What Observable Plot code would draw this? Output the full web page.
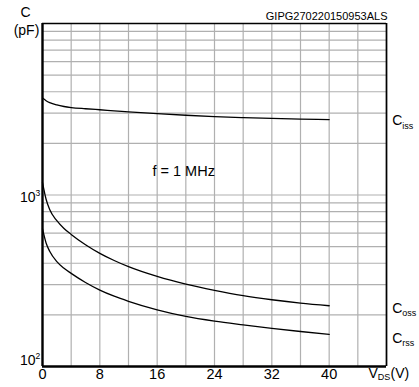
<!DOCTYPE html>
<html>
<head>
<meta charset="utf-8">
<script src="https://cdn.jsdelivr.net/npm/d3@7"></script>
<script src="https://cdn.jsdelivr.net/npm/@observablehq/plot@0.6"></script>
<style>
  html, body { margin: 0; padding: 0; background: white; }
  #chart svg { display: block; }
</style>
</head>
<body>
<div id="chart"></div>
<script>
// Data
const vds  = [0, 0.5, 1, 2, 3, 4, 6, 8, 10, 12, 16, 20, 24, 28, 32, 36, 40];
const ciss = [3673, 3548, 3459, 3350, 3281, 3236, 3184, 3141, 3097, 3055, 2979, 2917, 2864, 2825, 2796, 2773, 2754];
const coss = [1180, 944, 822, 708, 638, 589, 513, 457, 415, 382, 335, 302, 278, 259, 245, 234, 226];
const crss = [634, 525, 470, 409, 374, 349, 309, 279, 257, 240, 214, 196, 184, 175, 167, 160, 154];
const xTicks = [0, 8, 16, 24, 32, 40];
const xGrid = d3.range(0, 49, 4);
const yGrid = [200, 300, 400, 500, 600, 700, 800, 900, 1000, 2000, 3000, 4000, 5000, 6000, 7000, 8000, 9000];
const seriesNames = ["iss", "oss", "rss"];
const labelY = [2710, 218, 146];

const font = "'Liberation Sans', Arial, Helvetica, sans-serif";
const toRows = (vals, name) => vds.map((v, i) => ({v, c: vals[i], name}));
const rows = [...toRows(ciss, "iss"), ...toRows(coss, "oss"), ...toRows(crss, "rss")];

const chart = Plot.plot({
  width: 419,
  height: 387,
  marginLeft: 42,
  marginRight: 33,
  marginTop: 23,
  marginBottom: 21,
  style: {fontFamily: font, fontSize: "14px", background: "white", color: "black", overflow: "visible"},
  x: {domain: [0, 48], axis: null},
  y: {type: "log", domain: [100, 10000], axis: null},
  marks: [
    Plot.ruleX(xGrid, {stroke: "#b0b0b0", strokeWidth: 1.2}),
    Plot.ruleY(yGrid, {stroke: "#b0b0b0", strokeWidth: 1.2}),
    Plot.ruleY([10000], {stroke: "black", strokeWidth: 1.3}),
    Plot.ruleX([48], {stroke: "black", strokeWidth: 1.7}),
    Plot.line(rows, {x: "v", y: "c", z: "name", stroke: "black", strokeWidth: 1.3, curve: "monotone-x"}),
    Plot.ruleX([0], {stroke: "black", strokeWidth: 2.4}),
    Plot.ruleY([100], {stroke: "black", strokeWidth: 2.4}),
    // x tick labels
    Plot.text(xTicks, {x: d => d, frameAnchor: "bottom", textAnchor: "middle", lineAnchor: "middle", dy: 7.5, fontSize: 14.5, text: d => String(d)}),
    // y tick labels
    Plot.text([1000], {y: d => d, frameAnchor: "left", textAnchor: "end", lineAnchor: "middle", dx: -7, dy: 2.4, fontSize: 14, text: () => "10"}),
    Plot.text([1000], {y: d => d, frameAnchor: "left", textAnchor: "start", lineAnchor: "middle", dx: -7, dy: -2, fontSize: 8.5, text: () => "3"}),
    Plot.text([100], {y: d => d, frameAnchor: "left", textAnchor: "end", lineAnchor: "middle", dx: -7, dy: -6, fontSize: 14, text: () => "10"}),
    Plot.text([100], {y: d => d, frameAnchor: "left", textAnchor: "start", lineAnchor: "middle", dx: -7, dy: -10, fontSize: 8.5, text: () => "2"}),
    // axis titles
    Plot.text(["C"], {frameAnchor: "top-left", textAnchor: "middle", lineAnchor: "middle", dx: -17, dy: -10.5, fontSize: 14}),
    Plot.text(["(pF)"], {frameAnchor: "top-left", textAnchor: "middle", lineAnchor: "middle", dx: -16, dy: 7, fontSize: 14}),
    Plot.text(["V"], {frameAnchor: "bottom-right", textAnchor: "start", lineAnchor: "middle", dx: -18, dy: 7.5, fontSize: 14}),
    Plot.text(["DS"], {frameAnchor: "bottom-right", textAnchor: "start", lineAnchor: "middle", dx: -8.8, dy: 10.5, fontSize: 9}),
    Plot.text(["(V)"], {frameAnchor: "bottom-right", textAnchor: "start", lineAnchor: "middle", dx: 4, dy: 7.5, fontSize: 14}),
    Plot.text(["GIPG270220150953ALS"], {frameAnchor: "top-right", textAnchor: "end", lineAnchor: "middle", dx: 1, dy: -7, fontSize: 11}),
    // series labels
    Plot.text(labelY, {x: () => 48, y: d => d, textAnchor: "start", lineAnchor: "middle", dx: 5.7, fontSize: 14, text: () => "C"}),
    Plot.text(labelY, {x: () => 48, y: d => d, textAnchor: "start", lineAnchor: "middle", dx: 15.8, dy: 5, fontSize: 9, text: (d, i) => seriesNames[i]}),
    // annotation
    Plot.text(["f = 1 MHz"], {x: () => 19.7, y: () => 1370, textAnchor: "middle", lineAnchor: "middle", fontSize: 14.5})
  ]
});
document.getElementById("chart").appendChild(chart);
</script>
</body>
</html>
